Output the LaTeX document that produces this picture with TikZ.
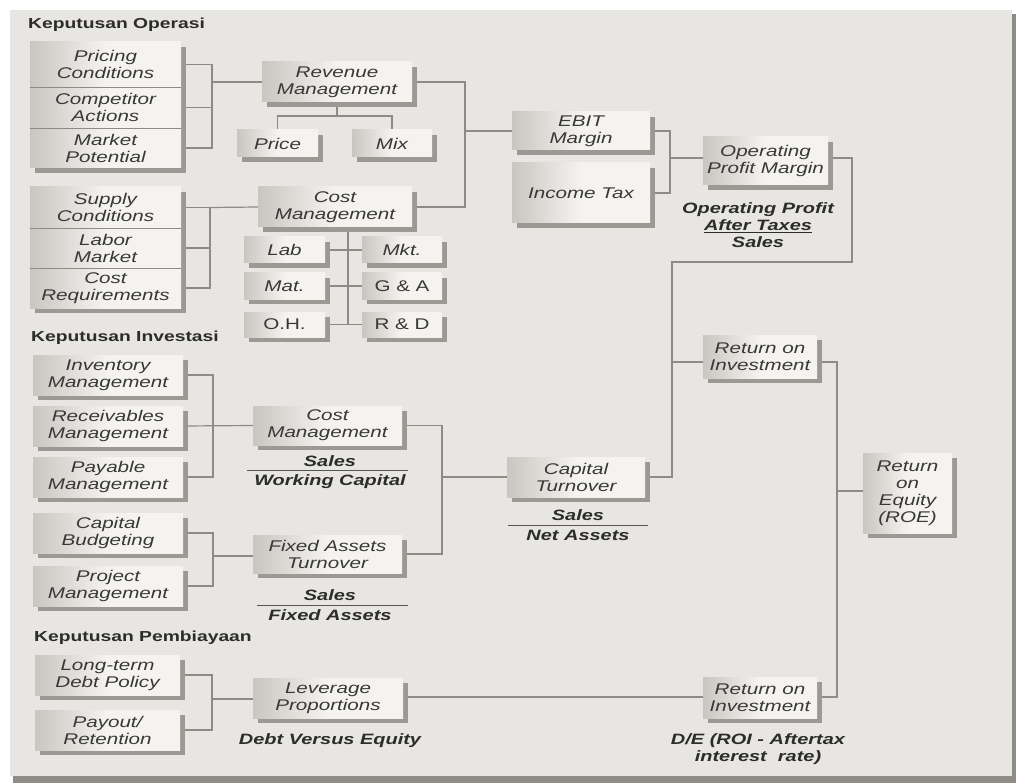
\documentclass[tikz,border=0pt]{standalone}
\usepackage{fontspec}
\setmainfont{Liberation Sans}[FakeStretch=1.33]
\usetikzlibrary{shadows}
\definecolor{bgc}{HTML}{E8E6E2}
\definecolor{boxlight}{HTML}{F5F3F0}
\definecolor{boxdark}{HTML}{C9C6C1}
\definecolor{shadowc}{HTML}{9C9893}
\definecolor{linec}{HTML}{8E8B87}
\definecolor{txt}{HTML}{383838}
\definecolor{hdc}{HTML}{2C2C2C}
\definecolor{panelsh}{HTML}{8F8B86}
\pgfdeclarelayer{back}
\pgfdeclarelayer{bg}
\pgfsetlayers{back,bg,main}
\begin{document}
\begin{tikzpicture}[x=1pt,y=-1pt,
  rect/.style n args={4}{minimum width={#3-#1}, minimum height={#4-#2}, at={({(#1+#3)/2},{(#2+#4)/2})}},
  bx/.style={inner sep=0pt, align=center, left color=boxdark, right color=boxlight, middle color=boxlight,
    drop shadow={shadow xshift=5pt,shadow yshift=-5pt,fill=shadowc,opacity=1},
    font=\fontsize{15.5}{17}\selectfont\itshape, text=txt},
  bxu/.style={bx, font=\fontsize{15.5}{17}\selectfont},
  cn/.style={draw=linec, line width=1.2pt},
  dv/.style={draw=linec, line width=1pt},
  hd/.style={font=\fontsize{14.5}{16}\selectfont\bfseries, text=hdc, anchor=west, inner sep=0pt},
  lb/.style={font=\fontsize{15}{17}\selectfont\bfseries\itshape, text=hdc, inner sep=0pt, align=center},
  bar/.style={draw=hdc!80, line width=0.9pt}
]
\useasboundingbox (0,0) rectangle (1016,783);
\begin{pgfonlayer}{back}
\fill[white] (0,0) rectangle (1016,783);
\fill[panelsh] (13,14) rectangle (1016,783);
\fill[bgc] (10,10) rectangle (1012,776);
\end{pgfonlayer}

% Keputusan Operasi
\node[hd] (hop) at (28,25) {Keputusan Operasi};
\node[bx, rect={30}{42}{181}{87}] (pricing) {Pricing\\Conditions};
\node[bx, rect={30}{87}{181}{128}] (competitor) {Competitor\\Actions};
\node[bx, rect={30}{128}{181}{168}] (market) {Market\\Potential};
\draw[dv] (pricing.south west) -- (pricing.south east);
\draw[dv] (competitor.south west) -- (competitor.south east);

\node[bx, rect={30}{187}{181}{228}] (supply) {Supply\\Conditions};
\node[bx, rect={30}{228}{181}{268}] (labor) {Labor\\Market};
\node[bx, rect={30}{268}{181}{308}] (costreq) {Cost\\Requirements};
\draw[dv] (supply.south west) -- (supply.south east);
\draw[dv] (labor.south west) -- (labor.south east);

\node[bx, rect={262}{62}{412}{102}] (revenue) {Revenue\\Management};
\node[bx, rect={237}{130}{318}{157}] (price) {Price};
\node[bx, rect={352}{130}{432}{157}] (mix) {Mix};
\node[bx, rect={258}{187}{412}{227}] (costmgmt) {Cost\\Management};
\node[bx, rect={244}{237}{325}{263}] (lab) {Lab};
\node[bx, rect={362}{237}{442}{263}] (mkt) {Mkt.};
\node[bx, rect={244}{273}{325}{299}] (mat) {Mat.};
\node[bxu, rect={362}{273}{442}{299}] (ga) {G \& A};
\node[bxu, rect={244}{312}{325}{337}] (oh) {O.H.};
\node[bxu, rect={362}{312}{442}{337}] (rd) {R \& D};

\node[bx, rect={512}{112}{650}{150}] (ebit) {EBIT\\Margin};
\node[bx, rect={512}{163}{650}{223}] (incometax) {Income Tax};
\node[bx, rect={703}{137}{828}{185}] (opm) {Operating\\Profit Margin};
\node[lb] (opat) at (758,225) {Operating Profit\\\underline{After Taxes}\\Sales};

% Keputusan Investasi
\node[hd] (hinv) at (31,338) {Keputusan Investasi};
\node[bx, rect={33}{355}{183}{395}] (inv) {Inventory\\Management};
\node[bx, rect={33}{406}{183}{446}] (rec) {Receivables\\Management};
\node[bx, rect={33}{457}{183}{497}] (pay) {Payable\\Management};
\node[bx, rect={33}{513}{183}{553}] (capbud) {Capital\\Budgeting};
\node[bx, rect={33}{566}{183}{606}] (proj) {Project\\Management};
\node[bx, rect={253}{406}{402}{445}] (cm2) {Cost\\Management};
\node[lb] (saleswc) at (330,461) {Sales};
\node[lb] (wc) at (330,482) {Working Capital};
\draw[bar] (247,470) -- (408,470);
\node[bx, rect={253}{535}{402}{573}] (fat) {Fixed Assets\\Turnover};
\node[lb] (salesfa) at (330,595) {Sales};
\node[lb] (fa) at (330,615) {Fixed Assets};
\draw[bar] (257,605) -- (408,605);

\node[bx, rect={507}{457}{645}{497}] (capturn) {Capital\\Turnover};
\node[lb] (salesna) at (578,515) {Sales};
\node[lb] (na) at (578,535) {Net Assets};
\draw[bar] (508,525) -- (648,525);

\node[bx, rect={703}{335}{817}{378}] (roi1) {Return on\\Investment};
\node[bx, rect={863}{453}{952}{533}] (roe) {Return\\on\\Equity\\(ROE)};

% Keputusan Pembiayaan
\node[hd] (hpem) at (34,638) {Keputusan Pembiayaan};
\node[bx, rect={35}{655}{180}{695}] (ltdebt) {Long-term\\Debt Policy};
\node[bx, rect={35}{710}{180}{750}] (payout) {Payout/\\Retention};
\node[bx, rect={253}{678}{403}{718}] (lev) {Leverage\\Proportions};
\node[lb] (dve) at (330,741) {Debt Versus Equity};
\node[bx, rect={703}{677}{817}{718}] (roi2) {Return on\\Investment};
\node[lb] (de) at (758,749) {D/E (ROI - Aftertax\\interest\ \ rate)};

\begin{pgfonlayer}{bg}
\coordinate (j1) at (212,82);
\draw[cn] (pricing.east) -| (j1) |- (market.east);
\draw[cn] (competitor.east) -- (competitor.east -| j1);
\draw[cn] (j1) -- (revenue.west);

\coordinate (j3) at (337,116);
\draw[cn] (revenue.south) -- (j3);
\draw[cn] (price.north) |- (j3) -| (mix.north);

\coordinate (j2) at (465,131);
\draw[cn] (revenue.east) -| (j2) |- (costmgmt.east);
\draw[cn] (j2) -- (ebit.west);

\coordinate (j5) at (210,207.5);
\draw[cn] (supply.east) -| (j5) |- (costreq.east);
\draw[cn] (labor.east) -- (labor.east -| j5);
\draw[cn] (j5) -- (costmgmt.west);

\coordinate (j4) at (348,325);
\draw[cn] (costmgmt.south -| j4) -- (j4);
\draw[cn] (lab.east) -- (mkt.west);
\draw[cn] (mat.east) -- (ga.west);
\draw[cn] (oh.east) -- (rd.west);

\coordinate (j6) at (670,158);
\draw[cn] (ebit.east) -| (j6) |- (incometax.east);
\draw[cn] (j6) -- (j6 -| opm.west);

\coordinate (j7) at (852,262);
\coordinate (j8) at (672,362);
\draw[cn] (opm.east |- j6) -| (j7) -| (j8) |- (capturn.east);
\draw[cn] (j8) -- (j8 -| roi1.west);

\coordinate (j9) at (837,491);
\coordinate (j10) at (837,697);
\draw[cn] (roi1.east |- j8) -| (j10) -- (j10 -| roi2.east);
\draw[cn] (j9) -- (j9 -| roe.west);
\draw[cn] (lev.east |- j10) -- (j10 -| roi2.west);

\coordinate (j11) at (442,477);
\draw[cn] (cm2.east) -| (j11) |- (fat.east);
\draw[cn] (j11) -- (capturn.west);

\coordinate (j12) at (213,426);
\draw[cn] (inv.east) -| (j12) |- (pay.east);
\draw[cn] (rec.east) -- (cm2.west);

\coordinate (j13) at (213,556);
\draw[cn] (capbud.east) -| (j13) |- (proj.east);
\draw[cn] (j13) -- (j13 -| fat.west);

\coordinate (j14) at (212,699);
\draw[cn] (ltdebt.east) -| (j14) |- (payout.east);
\draw[cn] (j14) -- (j14 -| lev.west);
\end{pgfonlayer}
\end{tikzpicture}
\end{document}
